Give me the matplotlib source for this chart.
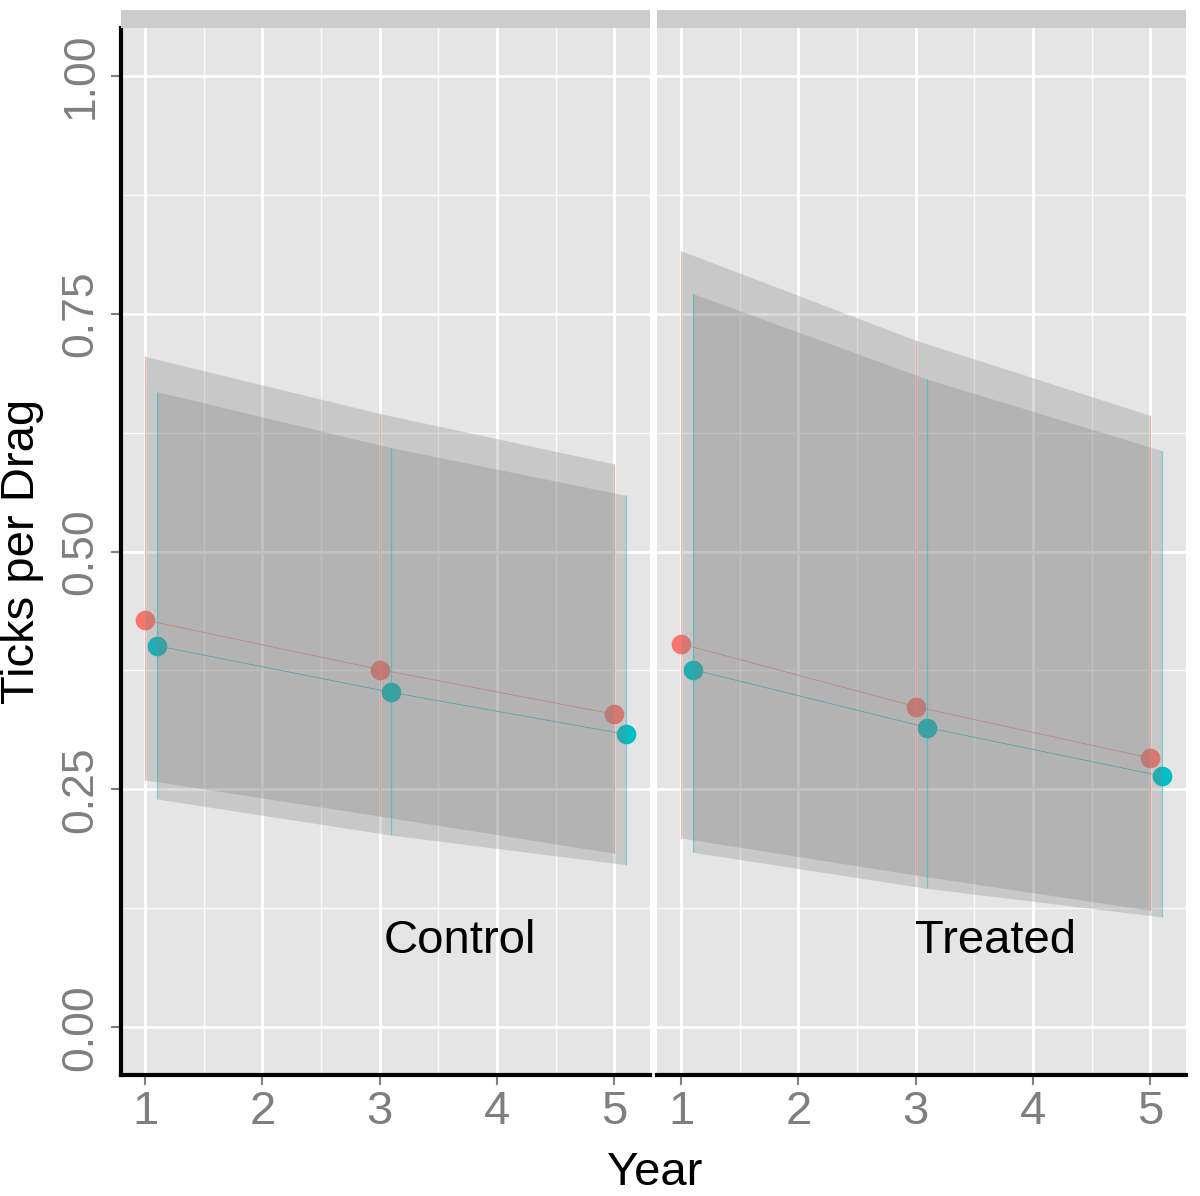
import numpy as np
import matplotlib
matplotlib.use("Agg")
import matplotlib.pyplot as plt
from matplotlib.patches import Rectangle
from matplotlib.ticker import MultipleLocator

plt.rcParams['font.family'] = ['Liberation Sans', 'DejaVu Sans']

# data
years_a = [1, 3, 5]          # red group
years_b = [1.1, 3.1, 5.1]    # teal group (dodged)
panels = ["Control", "Treated"]

control_a_est = [0.428, 0.376, 0.329]
control_a_lo = [0.260, 0.222, 0.183]
control_a_hi = [0.705, 0.645, 0.592]
control_b_est = [0.401, 0.352, 0.308]
control_b_lo = [0.240, 0.202, 0.171]
control_b_hi = [0.668, 0.609, 0.559]

treated_a_est = [0.403, 0.337, 0.283]
treated_a_lo = [0.199, 0.160, 0.123]
treated_a_hi = [0.816, 0.722, 0.643]
treated_b_est = [0.376, 0.315, 0.264]
treated_b_lo = [0.184, 0.146, 0.116]
treated_b_hi = [0.771, 0.681, 0.606]

data = {
    "Control": [(years_a, control_a_est, control_a_lo, control_a_hi),
                (years_b, control_b_est, control_b_lo, control_b_hi)],
    "Treated": [(years_a, treated_a_est, treated_a_lo, treated_a_hi),
                (years_b, treated_b_est, treated_b_lo, treated_b_hi)],
}
colors = ["#F8766D", "#00BFC4"]

W, H = 1200, 1196
fig = plt.figure(figsize=(W / 100, H / 100), dpi=100)

panel_left = [121, 657]
panel_w = 529
panel_top, panel_bot = 28, 1075
fs = 34

for i, name in enumerate(panels):
    ax = fig.add_axes([panel_left[i] / W, 1 - panel_bot / H, panel_w / W, (panel_bot - panel_top) / H])
    ax.set_facecolor("#E5E5E5")
    ax.set_xlim(0.795, 5.305)
    ax.set_ylim(-0.05, 1.05)

    # lines and points (under ribbons)
    for (x, est, lo, hi), c in zip(data[name], colors):
        ax.plot(x, est, color=c, lw=0.6, alpha=0.8, zorder=2)
        ax.scatter(x, est, s=200, color=c, zorder=2, linewidths=0)
    # ribbons
    for (x, est, lo, hi), c in zip(data[name], colors):
        ax.fill_between(x, lo, hi, color="#808080", alpha=0.28, lw=0, zorder=3)
    # line ranges
    for (x, est, lo, hi), c in zip(data[name], colors):
        ax.vlines(x, lo, hi, color=c, lw=0.9, alpha=0.45, zorder=4)

    ax.text(3.68, 0.078, name, fontsize=fs, ha="center", va="baseline", zorder=5)

    # grid
    ax.xaxis.set_major_locator(MultipleLocator(1))
    ax.xaxis.set_minor_locator(MultipleLocator(0.5))
    ax.yaxis.set_major_locator(MultipleLocator(0.25))
    ax.yaxis.set_minor_locator(MultipleLocator(0.125))
    ax.grid(which="major", color="white", lw=2.0, zorder=0)
    ax.grid(which="minor", color="white", lw=1.0, alpha=0.8, zorder=0)
    ax.set_axisbelow(True)
    ax.tick_params(which="minor", length=0)
    ax.tick_params(which="major", length=7, width=1.5, color="#7F7F7F",
                   labelcolor="#7F7F7F", labelsize=fs, pad=4)

    for s in ["top", "right"]:
        ax.spines[s].set_visible(False)
    ax.spines["bottom"].set_linewidth(3)
    ax.spines["bottom"].set_color("black")
    if i == 0:
        ax.spines["left"].set_linewidth(3)
        ax.spines["left"].set_color("black")
        ax.set_yticks([0, 0.25, 0.5, 0.75, 1.0])
        ax.set_yticklabels(["0.00", "0.25", "0.50", "0.75", "1.00"])
        for lab in ax.get_yticklabels():
            lab.set_rotation(90)
            lab.set_va("center")
            lab.set_ha("right")
            lab.set_fontsize(32)
        ax.tick_params(axis="y", pad=7)
    else:
        ax.spines["left"].set_visible(False)
        ax.tick_params(axis="y", which="both", length=0, labelleft=False)

    # empty facet strip
    fig.patches.append(Rectangle((panel_left[i] / W, 1 - panel_top / H), panel_w / W, 18 / H,
                                 transform=fig.transFigure, color="#CCCCCC", lw=0))

fig.text(22 / W, 1 - 551.5 / H, "Ticks per Drag", rotation=90, fontsize=fs,
         ha="center", va="center")
fig.text(655 / W, 1 - 1185 / H, "Year", fontsize=fs, ha="center", va="baseline")

fig.savefig("out.png", dpi=100)
